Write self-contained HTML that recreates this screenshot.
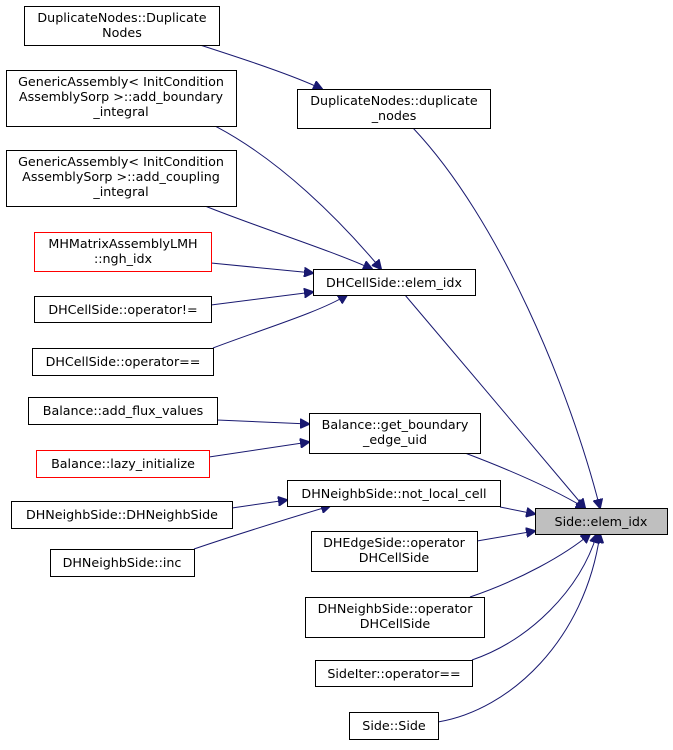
<!DOCTYPE html>
<html><head><meta charset="utf-8"><style>
html,body{margin:0;padding:0;background:#fff;}
svg text{font-family:"DejaVu Sans","Liberation Sans",sans-serif;font-size:12.7px;fill:#000;}
</style></head><body>
<svg width="673" height="745" viewBox="0 0 673 745" xmlns="http://www.w3.org/2000/svg">
<defs><marker id="a" viewBox="0 0 10 10" refX="9" refY="5" markerWidth="10" markerHeight="10" markerUnits="userSpaceOnUse" orient="auto"><path d="M0,0 L10,5 L0,10 z" fill="#191970" stroke="#191970"/></marker></defs>
<g fill="none" stroke="#191970" stroke-width="1" marker-end="url(#a)">
<path d="M200,45 C240,58 290,74 322,89"/>
<path d="M215,126 C280,160 340,220 381,269"/>
<path d="M205,206 C260,228 330,250 372,269"/>
<path d="M211,263 L313,273"/>
<path d="M211,305 L313,292"/>
<path d="M213,348 C260,330 320,312 347,295"/>
<path d="M217,420 L309,424"/>
<path d="M209,457 L309,442"/>
<path d="M232,508 L287,500"/>
<path d="M194,549 C250,530 300,515 330,506"/>
<path d="M413,128 C500,220 570,390 600,508"/>
<path d="M405,295 C460,360 545,460 585,508"/>
<path d="M465,453 C510,470 555,490 585,508"/>
<path d="M500,507 L535,514"/>
<path d="M477,541 L535,531"/>
<path d="M470,597 C520,580 565,555 590,534"/>
<path d="M472,660 C530,640 580,590 597,534"/>
<path d="M438,722 C510,710 585,640 600,534"/>
</g>
<g stroke="#000" fill="#fff" stroke-width="1">
<rect x="24.5" y="6.5" width="195" height="39"/>
<rect x="6.5" y="70.5" width="230" height="56"/>
<rect x="6.5" y="150.5" width="230" height="56"/>
<rect x="34.5" y="232.5" width="177" height="39" stroke="#f00"/>
<rect x="34.5" y="296.5" width="177" height="26"/>
<rect x="32.5" y="348.5" width="181" height="27"/>
<rect x="28.5" y="397.5" width="189" height="27"/>
<rect x="36.5" y="450.5" width="173" height="27" stroke="#f00"/>
<rect x="11.5" y="501.5" width="221" height="27"/>
<rect x="50.5" y="549.5" width="144" height="27"/>
<rect x="297.5" y="89.5" width="193" height="39"/>
<rect x="313.5" y="269.5" width="162" height="26"/>
<rect x="309.5" y="413.5" width="171" height="40"/>
<rect x="287.5" y="480.5" width="213" height="26"/>
<rect x="311.5" y="531.5" width="166" height="40"/>
<rect x="305.5" y="597.5" width="179" height="40"/>
<rect x="315.5" y="660.5" width="157" height="26"/>
<rect x="349.5" y="712.5" width="89" height="27"/>
<rect x="535.5" y="508.5" width="132" height="26" fill="#bfbfbf"/>
</g>
<g text-anchor="middle">
<text x="122" y="22">DuplicateNodes::Duplicate</text><text x="122" y="37">Nodes</text>
<text x="121" y="86">GenericAssembly&lt; InitCondition</text><text x="121" y="101">AssemblySorp &gt;::add_boundary</text><text x="121" y="116">_integral</text>
<text x="121" y="166">GenericAssembly&lt; InitCondition</text><text x="121" y="181">AssemblySorp &gt;::add_coupling</text><text x="121" y="196">_integral</text>
<text x="123" y="248">MHMatrixAssemblyLMH</text><text x="123" y="263">::ngh_idx</text>
<text x="123" y="314">DHCellSide::operator!=</text>
<text x="123" y="366">DHCellSide::operator==</text>
<text x="123" y="415">Balance::add_flux_values</text>
<text x="123" y="468">Balance::lazy_initialize</text>
<text x="122" y="519">DHNeighbSide::DHNeighbSide</text>
<text x="122" y="567">DHNeighbSide::inc</text>
<text x="394" y="105">DuplicateNodes::duplicate</text><text x="394" y="120">_nodes</text>
<text x="394" y="287">DHCellSide::elem_idx</text>
<text x="395" y="429">Balance::get_boundary</text><text x="395" y="444">_edge_uid</text>
<text x="394" y="498">DHNeighbSide::not_local_cell</text>
<text x="394" y="547">DHEdgeSide::operator</text><text x="394" y="562">DHCellSide</text>
<text x="395" y="613">DHNeighbSide::operator</text><text x="395" y="628">DHCellSide</text>
<text x="394" y="678">SideIter::operator==</text>
<text x="394" y="730">Side::Side</text>
<text x="601" y="526">Side::elem_idx</text>
</g>
</svg>
</body></html>
